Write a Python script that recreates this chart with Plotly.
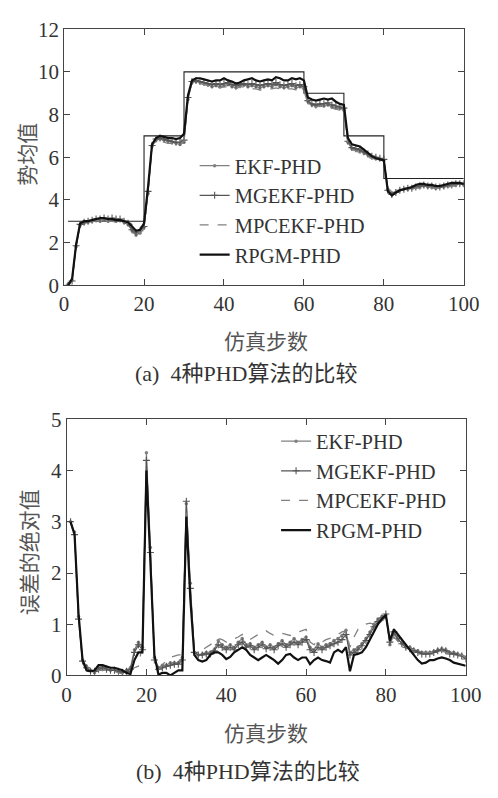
import plotly.graph_objects as go

STEPS = list(range(1, 101))

TRUE_COUNT = [3, 3, 3, 3, 3, 3, 3, 3, 3, 3, 3, 3, 3, 3, 3, 3, 3, 3, 3,
              7, 7, 7, 7, 7, 7, 7, 7, 7, 7,
              10, 10, 10, 10, 10, 10, 10, 10, 10, 10, 10, 10, 10, 10, 10,
              10, 10, 10, 10, 10, 10, 10, 10, 10, 10, 10, 10, 10, 10, 10,
              9, 9, 9, 9, 9, 9, 9, 9, 9, 9,
              7, 7, 7, 7, 7, 7, 7, 7, 7, 7,
              5, 5, 5, 5, 5, 5, 5, 5, 5, 5, 5, 5, 5, 5, 5, 5, 5, 5, 5, 5, 5]

EKF_EST = [0.05, 0.25, 1.8, 2.8, 2.9, 2.95, 3.0, 3.05, 3.0, 3.05,
           3.0, 3.05, 3.0, 3.05, 2.95, 2.85, 2.55, 2.35, 2.45, 2.7,
           4.3, 6.5, 6.8, 6.85, 6.8, 6.75, 6.7, 6.65, 6.6, 6.7,
           8.7, 9.5, 9.55, 9.5, 9.45, 9.4, 9.3, 9.35, 9.3, 9.35,
           9.4, 9.3, 9.25, 9.35, 9.4, 9.3, 9.35, 9.3, 9.25, 9.3,
           9.35, 9.3, 9.4, 9.3, 9.25, 9.3, 9.35, 9.25, 9.3, 9.2,
           8.6, 8.45, 8.4, 8.45, 8.4, 8.45, 8.35, 8.3, 8.3, 8.2,
           6.7, 6.4, 6.35, 6.3, 6.2, 6.1, 6.0, 5.95, 5.9, 5.85,
           4.5, 4.3, 4.35, 4.45, 4.5, 4.5, 4.55, 4.6, 4.6, 4.65,
           4.6, 4.6, 4.55, 4.6, 4.6, 4.65, 4.7, 4.7, 4.75, 4.7]

MGEKF_EST = [0.0, 0.2, 1.85, 2.85, 2.95, 3.0, 3.05, 3.1, 3.1, 3.15,
             3.1, 3.15, 3.1, 3.1, 3.0, 2.9, 2.6, 2.45, 2.55, 2.75,
             4.4, 6.55, 6.85, 6.9, 6.85, 6.8, 6.75, 6.7, 6.7, 6.8,
             8.8, 9.55, 9.6, 9.55, 9.5, 9.45, 9.4, 9.45, 9.4, 9.45,
             9.5, 9.4, 9.35, 9.4, 9.45, 9.4, 9.45, 9.4, 9.35, 9.4,
             9.45, 9.4, 9.5, 9.4, 9.35, 9.4, 9.45, 9.35, 9.4, 9.3,
             8.65, 8.5, 8.45, 8.5, 8.5, 8.55, 8.45, 8.4, 8.35, 8.3,
             6.75, 6.45, 6.4, 6.35, 6.25, 6.15, 6.05, 6.0, 5.95, 5.9,
             4.45, 4.25, 4.35, 4.45, 4.5, 4.55, 4.55, 4.6, 4.65, 4.7,
             4.65, 4.65, 4.6, 4.6, 4.65, 4.7, 4.7, 4.75, 4.75, 4.75]

MPCEKF_EST = [0.0, 0.25, 1.9, 2.85, 2.95, 2.95, 3.0, 3.0, 3.05, 3.05,
              3.0, 3.0, 2.95, 3.0, 2.95, 2.9, 2.85, 2.8, 2.4, 2.75,
              4.4, 6.6, 6.75, 6.8, 6.7, 6.65, 6.65, 6.6, 6.6, 6.75,
              8.8, 9.5, 9.5, 9.45, 9.4, 9.35, 9.3, 9.3, 9.25, 9.3,
              9.3, 9.25, 9.2, 9.3, 9.3, 9.25, 9.2, 9.2, 9.15, 9.15,
              9.2, 9.2, 9.25, 9.2, 9.15, 9.2, 9.2, 9.15, 9.1, 9.1,
              8.55, 8.4, 8.35, 8.4, 8.35, 8.4, 8.3, 8.25, 8.2, 8.15,
              6.6, 6.35, 6.3, 6.2, 6.1, 6.0, 5.95, 5.9, 5.85, 5.9,
              4.5, 4.35, 4.4, 4.45, 4.5, 4.5, 4.5, 4.55, 4.55, 4.6,
              4.6, 4.55, 4.55, 4.55, 4.6, 4.6, 4.65, 4.65, 4.7, 4.7]

RPGM_EST = [0.0, 0.3, 1.9, 2.9, 3.0, 3.0, 3.05, 3.1, 3.15, 3.15,
            3.1, 3.1, 3.05, 3.05, 3.0, 2.95, 2.75, 2.55, 2.6, 2.9,
            4.6, 6.6, 6.9, 7.0, 6.95, 6.9, 6.9, 6.85, 6.9, 7.1,
            8.9, 9.6, 9.7, 9.7, 9.65, 9.6, 9.55, 9.6, 9.6, 9.7,
            9.6, 9.55, 9.45, 9.5, 9.6, 9.65, 9.7, 9.6, 9.55, 9.6,
            9.65, 9.6, 9.75, 9.7, 9.6, 9.6, 9.7, 9.65, 9.7, 9.6,
            8.8, 8.7, 8.65, 8.7, 8.75, 8.7, 8.75, 8.6, 8.5, 8.45,
            6.9, 6.6, 6.55, 6.5, 6.35, 6.2, 6.05, 5.95, 5.9, 5.85,
            4.4, 4.2, 4.35, 4.45, 4.5, 4.55, 4.6, 4.7, 4.75, 4.75,
            4.7, 4.7, 4.65, 4.65, 4.7, 4.75, 4.8, 4.8, 4.8, 4.75]

EKF_ERR = [3.0, 2.8, 1.15, 0.3, 0.18, 0.1, 0.05, 0.15, 0.18, 0.15,
           0.1, 0.12, 0.08, 0.05, 0.1, 0.15, 0.5, 0.65, 0.55, 4.35,
           2.5, 0.35, 0.15, 0.2, 0.2, 0.25, 0.25, 0.25, 0.35, 3.35,
           1.8, 0.45, 0.4, 0.42, 0.45, 0.45, 0.5, 0.68, 0.6, 0.55,
           0.6, 0.55, 0.65, 0.72, 0.6, 0.62, 0.55, 0.6, 0.65, 0.55,
           0.6, 0.55, 0.62, 0.68, 0.6, 0.65, 0.72, 0.65, 0.7, 0.75,
           0.55, 0.5, 0.62, 0.55, 0.6, 0.62, 0.68, 0.72, 0.78, 0.88,
           0.45, 0.5, 0.55, 0.62, 0.72, 0.85, 1.0, 1.1, 1.15, 1.18,
           0.6, 0.8, 0.7, 0.62, 0.55, 0.55, 0.5, 0.48, 0.45, 0.45,
           0.45, 0.47, 0.5, 0.52, 0.5, 0.45, 0.45, 0.42, 0.4, 0.35]

MGEKF_ERR = [3.0, 2.75, 1.1, 0.28, 0.15, 0.08, 0.08, 0.12, 0.15, 0.12,
             0.1, 0.1, 0.08, 0.06, 0.08, 0.12, 0.45, 0.6, 0.5, 4.2,
             2.4, 0.3, 0.12, 0.15, 0.18, 0.2, 0.22, 0.22, 0.3, 3.4,
             1.7, 0.45, 0.4, 0.4, 0.42, 0.42, 0.48, 0.6, 0.55, 0.5,
             0.55, 0.5, 0.6, 0.65, 0.55, 0.58, 0.5, 0.55, 0.6, 0.52,
             0.55, 0.5, 0.58, 0.62, 0.55, 0.6, 0.65, 0.6, 0.65, 0.7,
             0.5, 0.45, 0.55, 0.5, 0.55, 0.58, 0.62, 0.65, 0.7, 0.8,
             0.4, 0.45, 0.5, 0.58, 0.68, 0.8, 0.95, 1.05, 1.12, 1.2,
             0.65, 0.85, 0.72, 0.62, 0.55, 0.52, 0.48, 0.45, 0.42, 0.42,
             0.42, 0.45, 0.48, 0.5, 0.48, 0.42, 0.42, 0.4, 0.38, 0.32]

MPCEKF_ERR = [3.0, 2.7, 1.1, 0.25, 0.1, 0.05, 0.05, 0.1, 0.1, 0.1,
              0.08, 0.08, 0.05, 0.03, 0.05, 0.1, 0.15, 0.18, 0.6, 3.9,
              2.3, 0.3, 0.1, 0.2, 0.3, 0.35, 0.38, 0.4, 0.4, 3.2,
              1.6, 0.45, 0.45, 0.5, 0.55, 0.6, 0.65, 0.72, 0.7, 0.65,
              0.68, 0.72, 0.75, 0.8, 0.72, 0.7, 0.75, 0.8, 0.82, 0.87,
              0.82, 0.78, 0.8, 0.82, 0.8, 0.78, 0.82, 0.85, 0.88, 0.9,
              0.65, 0.6, 0.68, 0.65, 0.7, 0.72, 0.75, 0.8, 0.85, 0.87,
              0.55, 0.75, 0.9, 0.95, 1.0, 1.02, 1.0, 1.0, 1.05, 1.15,
              0.65, 0.75, 0.68, 0.6, 0.55, 0.52, 0.5, 0.48, 0.45, 0.45,
              0.45, 0.45, 0.48, 0.48, 0.45, 0.42, 0.42, 0.4, 0.4, 0.35]

RPGM_ERR = [3.0, 2.75, 1.2, 0.3, 0.1, 0.08, 0.1, 0.2, 0.2, 0.17,
            0.15, 0.15, 0.12, 0.1, 0.05, 0.03, 0.3, 0.45, 0.45, 4.0,
            2.2, 0.4, 0.02, 0.05, 0.05, 0.0, 0.05, 0.1, 0.1, 3.1,
            1.5, 0.4, 0.3, 0.27, 0.3, 0.4, 0.45, 0.45, 0.4, 0.32,
            0.36, 0.45, 0.5, 0.55, 0.5, 0.4, 0.35, 0.3, 0.35, 0.4,
            0.35, 0.3, 0.23, 0.3, 0.4, 0.42, 0.35, 0.3, 0.35, 0.35,
            0.22, 0.3, 0.35, 0.3, 0.28, 0.25, 0.45, 0.5, 0.45, 0.55,
            0.08, 0.4, 0.42, 0.45, 0.55, 0.7, 0.85, 1.0, 1.1, 1.18,
            0.68, 0.9, 0.8, 0.7, 0.6, 0.5, 0.4, 0.3, 0.23, 0.25,
            0.3, 0.3, 0.33, 0.35, 0.33, 0.3, 0.25, 0.23, 0.2, 0.19]

SERIES_NAMES = ["EKF-PHD", "MGEKF-PHD", "MPCEKF-PHD", "RPGM-PHD"]
X_TICKS = [0, 20, 40, 60, 80, 100]
Y1_TICKS = [0, 2, 4, 6, 8, 10, 12]
Y2_TICKS = [0, 1, 2, 3, 4, 5]

W, H = 498, 798
SERIF = "Liberation Serif"
CJK = "Noto Sans CJK SC"
MIXED = "'Liberation Serif', 'Noto Sans CJK SC'"
TXT = "#333333"

styles = [
    dict(line=dict(color="#808080", width=1.2), mode="lines+markers",
         marker=dict(symbol="circle", size=3.5, color="#808080")),
    dict(line=dict(color="#555555", width=1.2), mode="lines+markers",
         marker=dict(symbol="cross-thin", size=5, line=dict(color="#555555", width=1.1))),
    dict(line=dict(color="#808080", width=1.3, dash="dash"), mode="lines"),
    dict(line=dict(color="#111111", width=2.2), mode="lines"),
]

fig = go.Figure()

# top chart
fig.add_trace(go.Scatter(x=STEPS, y=TRUE_COUNT, mode="lines", line=dict(color="#222222", width=1.1, shape="hv"),
                         showlegend=False, xaxis="x", yaxis="y"))
for name, data, st in zip(SERIES_NAMES, [EKF_EST, MGEKF_EST, MPCEKF_EST, RPGM_EST], styles):
    fig.add_trace(go.Scatter(x=STEPS, y=data, name=name, xaxis="x", yaxis="y", legend="legend", **st))

# bottom chart
for name, data, st in zip(SERIES_NAMES, [EKF_ERR, MGEKF_ERR, MPCEKF_ERR, RPGM_ERR], styles):
    fig.add_trace(go.Scatter(x=STEPS, y=data, name=name, xaxis="x2", yaxis="y2", legend="legend2", **st))

axis_common = dict(showline=True, linecolor="#444444", linewidth=1, mirror="ticks", ticks="inside",
                   ticklen=6, tickcolor="#444444", showgrid=False, zeroline=False,
                   tickfont=dict(family=SERIF, size=21, color=TXT))


def px_x(p):
    return p / W


def px_y(p):
    return 1 - p / H


def note(text, x, y, family, size, color, angle=0):
    return dict(text=text, x=px_x(x), y=px_y(y), xref="paper", yref="paper", showarrow=False,
                xanchor="center", yanchor="middle", textangle=angle,
                font=dict(family=family, size=size, color=color))


fig.update_layout(
    width=W, height=H,
    margin=dict(l=0, r=0, t=0, b=0),
    paper_bgcolor="white", plot_bgcolor="white",
    xaxis=dict(domain=[px_x(61.7), px_x(479)], range=[0, 100], tickvals=X_TICKS, anchor="y", **axis_common),
    yaxis=dict(domain=[px_y(281.7), px_y(17.7)], range=[0, 12], tickvals=Y1_TICKS, anchor="x", **axis_common),
    xaxis2=dict(domain=[px_x(64.3), px_x(481)], range=[0, 100], tickvals=X_TICKS, anchor="y2", **axis_common),
    yaxis2=dict(domain=[px_y(684), px_y(420)], range=[0, 5], tickvals=Y2_TICKS, anchor="x2", **axis_common),
    legend=dict(x=px_x(198), y=px_y(138), xanchor="left", yanchor="top", bgcolor="rgba(0,0,0,0)",
                font=dict(family=SERIF, size=20.5, color=TXT), tracegroupgap=0),
    legend2=dict(x=px_x(283), y=px_y(422), xanchor="left", yanchor="top", bgcolor="rgba(0,0,0,0)",
                 font=dict(family=SERIF, size=20.5, color=TXT), tracegroupgap=0),
    annotations=[
        note("势均值", 22, 147, CJK, 21, "#555555", -90),
        note("仿真步数", 273, 338, CJK, 21, "#555555"),
        note("(a)  4种PHD算法的比较", 252, 373, MIXED, 22, TXT),
        note("误差的绝对值", 24, 557, CJK, 21, "#555555", -90),
        note("仿真步数", 272, 742, CJK, 21, "#555555"),
        note("(b)  4种PHD算法的比较", 254, 783, MIXED, 22, TXT),
    ],
)

fig.write_html("out.html")
